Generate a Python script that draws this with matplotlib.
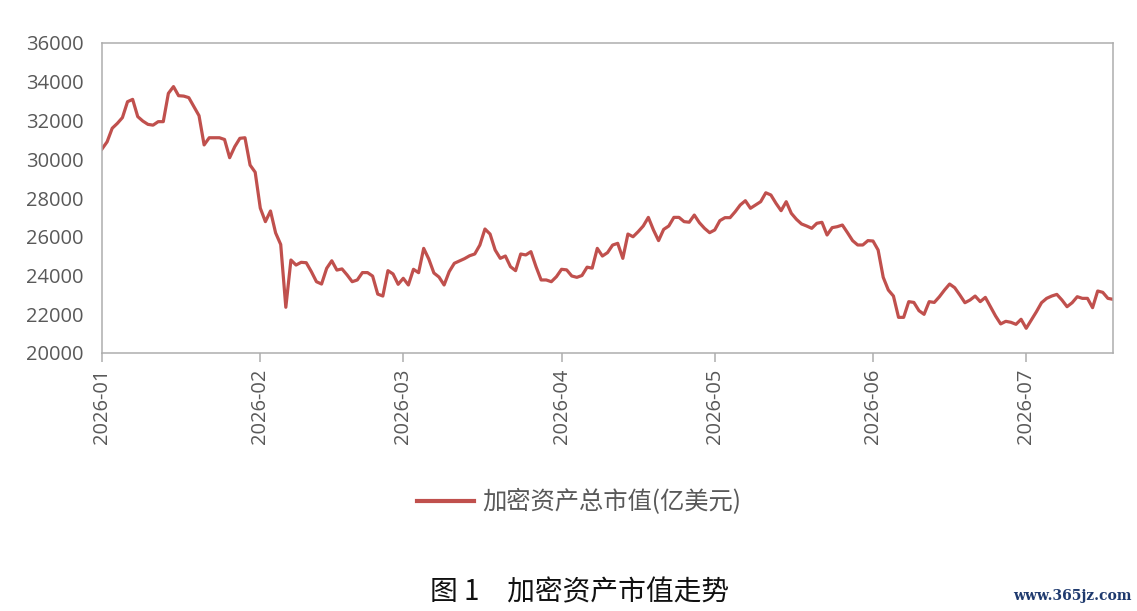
import matplotlib
matplotlib.use("Agg")
import matplotlib.pyplot as plt
import matplotlib.dates as mdates
import pandas as pd

# daily values (亿美元)
jan = [30530, 30900, 31600, 31850, 32150, 32970, 33090, 32200, 31970, 31800,
       31760, 31940, 31940, 33400, 33750, 33280, 33260, 33180, 32710, 32250,
       30740, 31110, 31110, 31110, 31020, 30080, 30650, 31080, 31110, 29700,
       29330]
feb = [27480, 26780, 27330, 26200, 25600, 22360, 24800, 24540, 24680, 24660,
       24200, 23680, 23560, 24370, 24760, 24280, 24340, 24030, 23680, 23770,
       24150, 24150, 23970, 23040, 22940, 24250, 24080, 23545]
mar = [23855, 23510, 24320, 24145, 25400, 24850, 24130, 23920, 23510, 24200,
       24630, 24750, 24870, 25020, 25110, 25570, 26400, 26140, 25315, 24885,
       25005, 24455, 24250, 25110, 25060, 25230, 24455, 23770, 23770, 23680,
       23940]
apr = [24320, 24290, 23975, 23905, 24000, 24430, 24380, 25400, 25005, 25180,
       25570, 25660, 24885, 26140, 26000, 26260, 26555, 27000, 26350, 25800,
       26380, 26555, 27000, 27000, 26780, 26750, 27120, 26725, 26435, 26210]
may = [26350, 26830, 26985, 26985, 27290, 27640, 27860, 27470, 27640, 27810,
       28270, 28155, 27725, 27345, 27810, 27210, 26900, 26660, 26555, 26435,
       26695, 26745, 26090, 26470, 26520, 26605, 26210, 25800, 25575, 25575,
       25800]
jun = [25780, 25315, 23905, 23250, 22940, 21840, 21840, 22650, 22610, 22185,
       21995, 22650, 22610, 22905, 23250, 23560, 23370, 22995, 22595, 22735,
       22940, 22650, 22870, 22390, 21910, 21500, 21635, 21585, 21480, 21740]
jul = [21275, 21700, 22130, 22595, 22820, 22940, 23025, 22735, 22390, 22595,
       22905, 22820, 22820, 22340, 23200, 23130, 22820, 22770]

values = jan + feb + mar + apr + may + jun + jul
dates = pd.date_range("2026-01-01", periods=len(values), freq="D")

series_name = "加密资产总市值(亿美元)"
caption = "图 1　加密资产市值走势"
watermark = "www.365jz.com"
yticks = list(range(20000, 36001, 2000))

plt.rcParams['font.family'] = ['Open Sans', 'Noto Sans CJK SC', 'DejaVu Sans']

fig = plt.figure(figsize=(11.37, 6.11), dpi=100)
ax = fig.add_axes([102 / 1137, 1 - 353 / 611, (1113 - 102) / 1137, (353 - 43) / 611])

ax.plot(dates, values, color='#C0504D', linewidth=2.3, label=series_name)

ax.set_xlim(dates[0], dates[-1])
ax.set_ylim(20000, 36000)
ax.set_yticks(yticks)
ax.set_yticklabels([str(v) for v in yticks])

ax.xaxis.set_major_locator(mdates.MonthLocator())
ax.xaxis.set_major_formatter(mdates.DateFormatter('%Y-%m'))

grey = '#ADADAD'
for s in ax.spines.values():
    s.set_color(grey)
    s.set_linewidth(1.1)

ax.tick_params(axis='y', length=0, pad=13, labelsize=14.5, labelcolor='#595959')
ax.tick_params(axis='x', direction='out', length=6.5, width=1.1, color=grey,
               pad=5, labelsize=14.5, labelcolor='#595959', labelrotation=90)

leg = fig.legend(loc='center', bbox_to_anchor=(579 / 1137, 1 - 502 / 611),
                 frameon=False, handlelength=2.35, handletextpad=0.33,
                 prop={'family': ['Noto Sans CJK SC', 'DejaVu Sans'], 'size': 17.5})
for t in leg.get_texts():
    t.set_color('#595959')
for h in leg.get_lines():
    h.set_linewidth(3)

fig.text(580 / 1137, 1 - 592 / 611, caption, ha='center', va='center',
         fontsize=20, color='#111111', fontweight='light',
         family=['Noto Sans CJK SC', 'DejaVu Sans'])

fig.text(1132 / 1137, 1 - 596 / 611, watermark, ha='right', va='center',
         fontsize=10, color='#1F3A6E', family='DejaVu Serif', fontweight='bold')

fig.savefig('out.png', dpi=100)
